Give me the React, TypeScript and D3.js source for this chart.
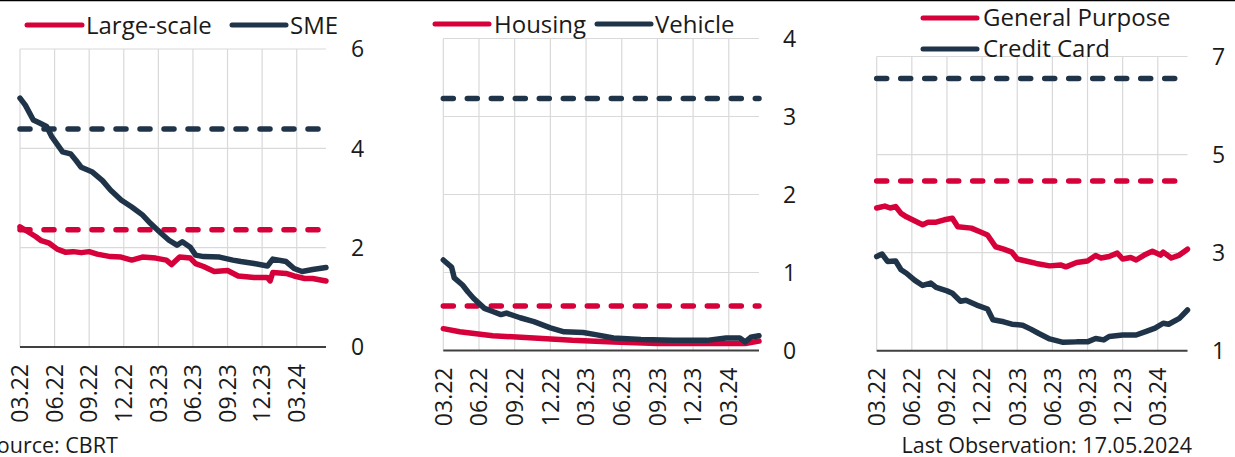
import React from "react";
import * as d3 from "d3";

// ---------- data (week index since first observation, value) ----------
const tickLabels = ["03.22", "06.22", "09.22", "12.22", "03.23", "06.23", "09.23", "12.23", "03.24"];
const tickWeeks = [0, 13, 26, 39, 52, 65, 78, 91, 104];
const lastWeek = 115;

const largeScale: [number, number][] = [
  [0, 2.42], [3, 2.32], [6, 2.22], [8, 2.14], [11, 2.09], [14, 1.97], [17, 1.91], [20, 1.92],
  [23, 1.9], [26, 1.92], [29, 1.87], [34, 1.82], [38, 1.81], [42, 1.75], [46, 1.81], [51, 1.79],
  [55, 1.75], [57, 1.66], [60, 1.81], [64, 1.79], [66, 1.68], [69, 1.62], [73, 1.52], [78, 1.54],
  [82, 1.43], [88, 1.4], [93, 1.4], [94, 1.33], [95, 1.5], [100, 1.48], [103, 1.43], [107, 1.38],
  [110, 1.38], [115, 1.33],
];
const sme: [number, number][] = [
  [0, 5.01], [2, 4.87], [5, 4.57], [7, 4.52], [10, 4.44], [12, 4.23], [16, 3.93], [19, 3.89],
  [21, 3.76], [23, 3.62], [27, 3.53], [31, 3.35], [34, 3.16], [38, 2.96], [42, 2.82], [46, 2.66],
  [49, 2.49], [53, 2.29], [56, 2.15], [59, 2.05], [61, 2.12], [64, 2.01], [66, 1.85], [69, 1.82],
  [75, 1.81], [80, 1.75], [83, 1.72], [88, 1.68], [93, 1.63], [95, 1.77], [100, 1.72], [103, 1.58],
  [106, 1.52], [110, 1.56], [115, 1.6],
];
const housing: [number, number][] = [
  [0, 0.28], [6, 0.24], [18, 0.19], [33, 0.16], [47, 0.13], [62, 0.11], [78, 0.09], [96, 0.09],
  [110, 0.09], [115, 0.12],
];
const vehicle: [number, number][] = [
  [0, 1.16], [3, 1.07], [4, 0.93], [7, 0.84], [9, 0.75], [11, 0.67], [15, 0.54], [18, 0.5],
  [21, 0.46], [23, 0.48], [28, 0.42], [33, 0.37], [39, 0.29], [44, 0.24], [51, 0.23], [56, 0.2],
  [62, 0.16], [72, 0.14], [84, 0.13], [96, 0.13], [103, 0.16], [108, 0.16], [110, 0.11], [112, 0.17],
  [115, 0.19],
];
const generalPurpose: [number, number][] = [
  [0, 3.91], [3, 3.95], [5, 3.91], [7, 3.94], [9, 3.8], [11, 3.73], [14, 3.65], [17, 3.57],
  [19, 3.62], [22, 3.62], [25, 3.67], [28, 3.7], [30, 3.53], [35, 3.5], [38, 3.43], [41, 3.36],
  [44, 3.12], [47, 3.07], [50, 3.01], [52, 2.87], [56, 2.82], [59, 2.78], [64, 2.73], [68, 2.75],
  [70, 2.71], [74, 2.8], [78, 2.83], [81, 2.94], [83, 2.89], [86, 2.92], [89, 2.99], [91, 2.87],
  [94, 2.9], [96, 2.85], [99, 2.95], [102, 3.03], [105, 2.95], [106, 3.01], [109, 2.89], [112, 2.95],
  [115, 3.07],
];
const creditCard: [number, number][] = [
  [0, 2.92], [2, 2.97], [4, 2.82], [7, 2.83], [9, 2.65], [11, 2.58], [14, 2.44], [17, 2.33],
  [20, 2.38], [22, 2.29], [26, 2.22], [28, 2.17], [31, 2.01], [33, 2.03], [37, 1.93], [41, 1.85],
  [43, 1.63], [47, 1.59], [50, 1.54], [54, 1.52], [57, 1.44], [60, 1.35], [64, 1.24], [69, 1.17],
  [74, 1.18], [78, 1.18], [81, 1.25], [84, 1.22], [86, 1.29], [91, 1.32], [96, 1.32], [100, 1.4],
  [103, 1.46], [106, 1.56], [108, 1.54], [112, 1.66], [115, 1.83],
];

// average (dashed) reference levels
const largeScaleAvg = 2.36;
const smeAvg = 4.39;
const housingAvg = 0.57;
const vehicleAvg = 3.23;
const generalPurposeAvg = 4.46;
const creditCardAvg = 6.55;

const panel1Ticks = [0, 2, 4, 6];
const panel2Ticks = [0, 1, 2, 3, 4];
const panel3Ticks = [1, 3, 5, 7];

// ---------- styling ----------
const RED = "#D6003A";
const NAVY = "#1F3449";
const GRID = "#D9D9D9";
const AXIS = "#404040";
const TEXT = "#1A1A1A";
const FONT = "'Open Sans', 'Noto Sans', sans-serif";
const FS_TICK = 23;
const FS_LEGEND = 24;
const FS_FOOT = 21.5;

type LegendItem = { label: string; color: string; x1: number; x2: number; y: number; tx: number; ty: number };
type Panel = {
  left: number; right: number; top: number; bottom: number; domain: [number, number];
  ticks: number[]; labelX: number;
  red: [number, number][]; navy: [number, number][]; redAvg: number; navyAvg: number;
  legend: LegendItem[];
};

const panels: Panel[] = [
  {
    left: 20, right: 326, top: 49, bottom: 347, domain: [0, 6], ticks: panel1Ticks, labelX: 351,
    red: largeScale, navy: sme, redAvg: largeScaleAvg, navyAvg: smeAvg,
    legend: [
      { label: "Large-scale", color: RED, x1: 27, x2: 82, y: 25, tx: 86, ty: 34 },
      { label: "SME", color: NAVY, x1: 232, x2: 286, y: 25, tx: 290, ty: 34 },
    ],
  },
  {
    left: 443.3, right: 759, top: 38.5, bottom: 350.5, domain: [0, 4], ticks: panel2Ticks, labelX: 783,
    red: housing, navy: vehicle, redAvg: housingAvg, navyAvg: vehicleAvg,
    legend: [
      { label: "Housing", color: RED, x1: 435, x2: 489, y: 24, tx: 494, ty: 32.5 },
      { label: "Vehicle", color: NAVY, x1: 597, x2: 651, y: 24, tx: 655, ty: 32.5 },
    ],
  },
  {
    left: 876.7, right: 1187.5, top: 56.5, bottom: 350.7, domain: [1, 7], ticks: panel3Ticks, labelX: 1212,
    red: generalPurpose, navy: creditCard, redAvg: generalPurposeAvg, navyAvg: creditCardAvg,
    legend: [
      { label: "General Purpose", color: RED, x1: 923, x2: 977, y: 18, tx: 983, ty: 26 },
      { label: "Credit Card", color: NAVY, x1: 923, x2: 977, y: 49, tx: 983, ty: 56.5 },
    ],
  },
];

function ChartPanel({ p }: { p: Panel }) {
  const x = d3.scaleLinear().domain([0, lastWeek]).range([p.left, p.right]);
  const y = d3.scaleLinear().domain(p.domain).range([p.bottom, p.top]);
  const line = d3
    .line<[number, number]>()
    .x((d) => x(d[0]))
    .y((d) => y(d[1]));
  const dashLine = (v: number) => line([[0, v], [lastWeek, v]]) || "";
  return (
    <g>
      {tickWeeks.map((w) => (
        <line key={"v" + w} x1={x(w)} x2={x(w)} y1={p.top} y2={p.bottom} stroke={GRID} strokeWidth={1.2} />
      ))}
      {p.ticks.map((t) => (
        <line key={"h" + t} x1={p.left} x2={p.right} y1={y(t)} y2={y(t)} stroke={GRID} strokeWidth={1.2} />
      ))}
      <line x1={p.left} x2={p.right} y1={p.bottom} y2={p.bottom} stroke={AXIS} strokeWidth={2} />
      {p.ticks.map((t) => (
        <text key={"yl" + t} x={p.labelX} y={y(t)} dy="0.36em" fontSize={FS_TICK} fill={TEXT} fontFamily={FONT}>
          {t}
        </text>
      ))}
      {tickWeeks.map((w, i) => (
        <text
          key={"xl" + w}
          transform={`translate(${x(w)},${p.bottom + 17}) rotate(-90)`}
          textAnchor="end"
          dy="0.36em"
          fontSize={FS_TICK}
          fill={TEXT}
          fontFamily={FONT}
        >
          {tickLabels[i]}
        </text>
      ))}
      <path d={dashLine(p.redAvg)} stroke={RED} strokeWidth={5.5} strokeDasharray="10 14" strokeLinecap="round" fill="none" />
      <path d={dashLine(p.navyAvg)} stroke={NAVY} strokeWidth={5.5} strokeDasharray="10 14" strokeLinecap="round" fill="none" />
      <path d={line(p.red) || ""} stroke={RED} strokeWidth={5.5} strokeLinejoin="round" strokeLinecap="round" fill="none" />
      <path d={line(p.navy) || ""} stroke={NAVY} strokeWidth={5.5} strokeLinejoin="round" strokeLinecap="round" fill="none" />
      {p.legend.map((l) => (
        <g key={l.label}>
          <line x1={l.x1} x2={l.x2} y1={l.y} y2={l.y} stroke={l.color} strokeWidth={5} strokeLinecap="round" />
          <text x={l.tx} y={l.ty} fontSize={FS_LEGEND} fill={TEXT} fontFamily={FONT}>
            {l.label}
          </text>
        </g>
      ))}
    </g>
  );
}

export default function App() {
  return (
    <svg width={1235} height={457} style={{ position: "absolute", left: 0, top: 0, background: "#fff" }}>
      <rect x={0} y={0} width={1235} height={457} fill="#fff" />
      <line x1={0} x2={1235} y1={0.5} y2={0.5} stroke="#000" strokeWidth={1.5} />
      {panels.map((p, i) => (
        <ChartPanel key={i} p={p} />
      ))}
      <text x={-15} y={453} fontSize={FS_FOOT} fill={TEXT} fontFamily={FONT}>
        Source: CBRT
      </text>
      <text x={1192} y={453} textAnchor="end" fontSize={FS_FOOT} fill={TEXT} fontFamily={FONT}>
        Last Observation: 17.05.2024
      </text>
    </svg>
  );
}
